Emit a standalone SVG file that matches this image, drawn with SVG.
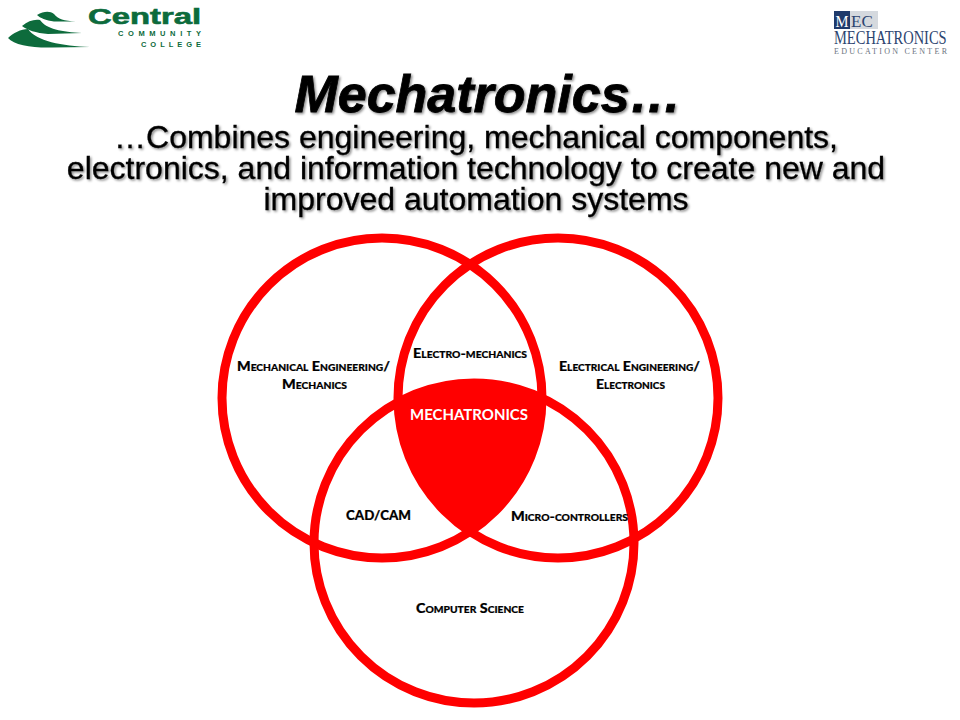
<svg xmlns="http://www.w3.org/2000/svg" width="960" height="720" viewBox="0 0 960 720">
<style>
.ring{fill:none;stroke:#f00;stroke-width:9}
.t{font-family:"Liberation Sans",Arial,sans-serif;text-anchor:middle;fill:#000;filter:url(#s)}
.sub{font-size:32px;stroke-width:.3;stroke:#000}
.ttl{font-size:52px;font-weight:bold;font-style:italic;stroke:#000;stroke-width:.8}
.l{font-family:Lato,"Open Sans",sans-serif;font-weight:900;font-size:14px;font-variant:small-caps;fill:#000;stroke:#000;stroke-width:.2}
.g{fill:#0d6b3c}
.gt{font-family:"Liberation Sans",Arial,sans-serif;font-weight:bold;fill:#0d6b3c}
.sf{font-family:"Liberation Serif",serif}
</style>
<defs>
<filter id="s" x="-5%" y="-20%" width="110%" height="140%"><feDropShadow dx="1.500" dy="1.500" stdDeviation=".8" flood-color="#000" flood-opacity=".45"/></filter>
<clipPath id="a"><circle cx="382" cy="398" r="160"/></clipPath>
<clipPath id="b"><circle cx="558" cy="398" r="160"/></clipPath>
</defs>
<rect width="960" height="720" fill="#fff"/>
<g id="logo-central">
<path class="g" d="M37 15C44 11 50 11 54 14 58 19 64 21 76 21.500L54 21.500C46 20.500 40 18 37 15Z"/>
<path class="g" d="M22 26C28 21 34 19 40 20 46 29 62 32 82 33L48 34C36 33 27 30 22 26Z"/>
<path class="g" d="M8 38C13 33 21 29 28 29 36 41 62 46 90 47L52 47.500C32 48 14 45 8 38Z"/>
<text class="gt" x="88" y="24" font-size="22" stroke="#0d6b3c" stroke-width=".6" textLength="113" lengthAdjust="spacingAndGlyphs">Central</text>
<text class="gt" x="118" y="36" font-size="7.500" textLength="83">COMMUNITY</text>
<text class="gt" x="141" y="47" font-size="7.500" textLength="60">COLLEGE</text>
</g>
<g id="logo-mec">
<rect x="834" y="11" width="16" height="18" fill="#1f3a6b"/>
<rect x="850" y="11" width="28" height="18" fill="#d5d9de"/>
<text class="sf" x="835.500" y="27" font-size="17" fill="#fff" textLength="13" lengthAdjust="spacingAndGlyphs">M</text>
<text class="sf" x="851" y="27" font-size="17" fill="#2c4470">EC</text>
<text class="sf" transform="translate(834 44) scale(.805 1)" font-size="18" fill="#2c4470">MECHATRONICS</text>
<text class="sf" x="834" y="54" font-size="8" fill="#6c7480" textLength="113">EDUCATION CENTER</text>
</g>
<g id="title">
<text class="t ttl" x="488" y="112">Mechatronics…</text>
<text class="t sub" x="476" y="148">…Combines engineering, mechanical components,</text>
<text class="t sub" x="476" y="179">electronics, and information technology to create new and</text>
<text class="t sub" x="476" y="210">improved automation systems</text>
</g>
<g id="connectors">
<g clip-path="url(#a)"><circle cx="474" cy="543" r="160" fill="#f00" clip-path="url(#b)"/></g>
<circle class="ring" cx="382" cy="398" r="160"/>
<circle class="ring" cx="558" cy="398" r="160"/>
<circle class="ring" cx="474" cy="543" r="160"/>
</g>
<g id="node-mechanical">
<text class="l" x="237" y="371" textLength="153" lengthAdjust="spacingAndGlyphs">Mechanical Engineering/</text>
<text class="l" x="282" y="389" textLength="65" lengthAdjust="spacingAndGlyphs">Mechanics</text>
</g>
<g id="node-electrical">
<text class="l" x="559" y="371" textLength="141" lengthAdjust="spacingAndGlyphs">Electrical Engineering/</text>
<text class="l" x="596" y="389" textLength="69" lengthAdjust="spacingAndGlyphs">Electronics</text>
</g>
<g id="node-electromech">
<text class="l" x="413" y="358" textLength="114" lengthAdjust="spacingAndGlyphs">Electro-mechanics</text>
</g>
<g id="node-mechatronics">
<text class="l" x="410" y="420" textLength="118" lengthAdjust="spacingAndGlyphs" style="fill:#fff;stroke:none;font-size:15px;font-weight:700">MECHATRONICS</text>
</g>
<g id="node-cadcam">
<text class="l" x="346" y="520" textLength="65" lengthAdjust="spacingAndGlyphs">CAD/CAM</text>
</g>
<g id="node-micro">
<text class="l" x="511" y="521" textLength="117" lengthAdjust="spacingAndGlyphs">Micro-controllers</text>
</g>
<g id="node-cs">
<text class="l" x="416" y="613" textLength="108" lengthAdjust="spacingAndGlyphs">Computer Science</text>
</g>
</svg>
